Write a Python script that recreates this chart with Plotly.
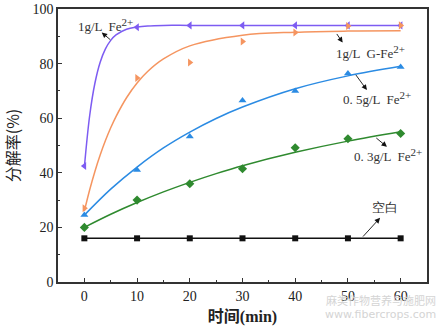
import plotly.graph_objects as go

# Sampling times (min)
time = [0, 10, 20, 30, 40, 50, 60]

# Measured degradation rate (%)
fe_1g = [42.5, 93.3, 94.0, 94.0, 94.0, 94.0, 94.0]
g_fe_1g = [27.0, 74.7, 80.4, 88.1, 91.4, 93.8, 94.0]
fe_05g = [24.5, 41.0, 53.3, 66.5, 70.0, 76.4, 78.8]
fe_03g = [20.0, 30.0, 36.0, 41.5, 49.2, 52.5, 54.4]
blank = [16.0, 16.0, 16.0, 16.0, 16.0, 16.0, 16.0]

# Fitted trend curves (time, rate)
fit_t_fast = [0, 1, 2, 3, 4, 5, 6, 8, 10, 12, 15, 20, 30, 40, 50, 60]
fit_fe_1g = [42.0, 60.8, 72.8, 80.5, 85.4, 88.5, 90.5, 92.6, 93.4, 93.8, 94.0, 94.0, 94.0, 94.0, 94.0, 94.0]
fit_g_fe_1g = [26.0, 33.7, 40.5, 46.5, 51.8, 56.5, 60.6, 67.5, 72.9, 77.1, 81.7, 86.5, 90.4, 91.5, 91.9, 92.0]
fit_t_slow = [0, 5, 10, 15, 20, 25, 30, 40, 50, 60]
fit_fe_05g = [24.5, 34.0, 42.1, 49.1, 54.9, 59.9, 64.1, 70.8, 75.5, 79.0]
fit_fe_03g = [20.0, 24.8, 29.1, 33.0, 36.5, 39.7, 42.6, 47.5, 51.6, 55.0]

C_PURPLE = "#7d5cf2"
C_ORANGE = "#f59560"
C_BLUE = "#2b8be3"
C_GREEN = "#2f8a2f"
C_BLACK = "#111111"

SERIF = "Liberation Serif, Times New Roman, serif"

fig = go.Figure()

def fit_line(x, y, color):
    fig.add_trace(go.Scatter(x=x, y=y, mode="lines", line=dict(color=color, width=1.5, shape="spline"),
                             showlegend=False, hoverinfo="skip"))

def points(y, color, symbol, size=7):
    fig.add_trace(go.Scatter(x=time, y=y, mode="markers",
                             marker=dict(color=color, symbol=symbol, size=size), showlegend=False))

fit_line(fit_t_fast, fit_fe_1g, C_PURPLE)
fit_line(fit_t_fast, fit_g_fe_1g, C_ORANGE)
fit_line(fit_t_slow, fit_fe_05g, C_BLUE)
fit_line(fit_t_slow, fit_fe_03g, C_GREEN)
fig.add_trace(go.Scatter(x=time, y=blank, mode="lines", line=dict(color=C_BLACK, width=1.5),
                         showlegend=False, hoverinfo="skip"))

points(fe_1g, C_PURPLE, "triangle-left")
points(g_fe_1g, C_ORANGE, "triangle-right")
points(fe_05g, C_BLUE, "triangle-up")
points(fe_03g, C_GREEN, "diamond")
points(blank, C_BLACK, "square", 6)

# Series labels with pointer arrows (head at the label end)
SUP = "<sup><span style='font-size:11px'>2+</span></sup>"
labels = [
    ("1g/L  Fe" + SUP, 4.0, 94.2, (5.2, 88.3), (3.3, 91.4)),
    ("1g/L  G-Fe" + SUP, 54.3, 84.4, (47.7, 91.4), (49.0, 87.7)),
    ("0. 5g/L  Fe" + SUP, 55.6, 67.3, (51.3, 76.4), (53.6, 70.3)),
    ("0. 3g/L  Fe" + SUP, 57.6, 46.5, (55.1, 53.2), (57.4, 49.5)),
    ("空白", 57.1, 27.2, (52.6, 16.1), (56.1, 23.5)),
]
for text, tx, ty, tail, head in labels:
    fig.add_annotation(x=tx, y=ty, text=text, showarrow=False,
                       font=dict(family=SERIF, size=13, color="#333333"))
    fig.add_annotation(x=head[0], y=head[1], ax=tail[0], ay=tail[1], axref="x", ayref="y",
                       text="", showarrow=True, arrowhead=2, arrowsize=1.2, arrowwidth=0.9,
                       arrowcolor="#111111")

# Site watermark, bottom-right corner
fig.add_annotation(x=1.03, y=-0.066, xref="paper", yref="paper", xanchor="right", yanchor="middle",
                   text="麻类作物营养与施肥网", showarrow=False,
                   font=dict(family="Noto Sans CJK SC", size=11, color="#d4d4d4"))
fig.add_annotation(x=1.03, y=-0.12, xref="paper", yref="paper", xanchor="right", yanchor="middle",
                   text="www.fibercrops.com", showarrow=False,
                   font=dict(family="DejaVu Sans", size=11, color="#d4d4d4"))

axis_common = dict(showline=True, linecolor="#333333", linewidth=1.5, mirror=True,
                   ticks="inside", ticklen=4, tickcolor="#333333", showgrid=False, zeroline=False,
                   tickfont=dict(family=SERIF, size=14, color="#222222"))

fig.update_xaxes(range=[-5, 65], tickvals=[0, 10, 20, 30, 40, 50, 60],
                 minor=dict(ticks="inside", ticklen=2.5, dtick=5, tick0=0, tickcolor="#333333"),
                 title=dict(text="<b>时间(min)</b>", font=dict(family=SERIF + ", Noto Sans CJK SC", size=16, color="#222222"),
                            standoff=14),
                 automargin=False,
                 **axis_common)
fig.update_yaxes(range=[0, 100], tickvals=[0, 20, 40, 60, 80, 100],
                 minor=dict(ticks="inside", ticklen=2.5, dtick=10, tick0=0, tickcolor="#333333"),
                 title=dict(text="分解率(%)", font=dict(family="Noto Sans CJK SC, " + SERIF, size=16, color="#222222"),
                            standoff=10),
                 automargin=False,
                 **axis_common)

fig.update_layout(width=444, height=326, margin=dict(l=58, r=17, t=9, b=44),
                  plot_bgcolor="white", paper_bgcolor="white")

fig.write_html("out.html")
